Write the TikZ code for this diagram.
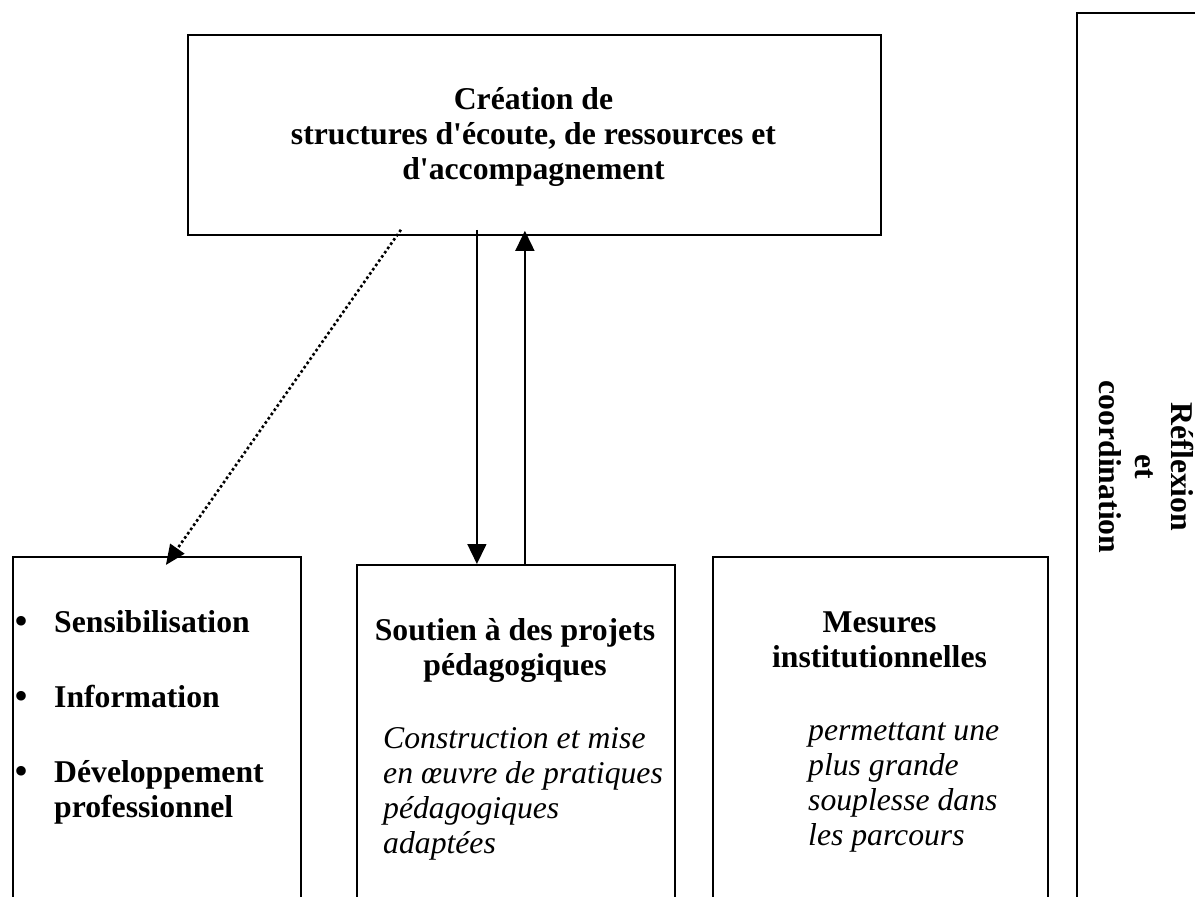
\documentclass[tikz,border=0pt]{standalone}
\usepackage{fontspec}
\setmainfont{Liberation Serif}
\usetikzlibrary{arrows.meta}

\begin{document}
\begin{tikzpicture}[x=1pt,y=-1pt,
  box/.style={draw, line width=1.8pt, inner sep=0pt, anchor=north west},
  bt/.style={font=\fontsize{31.7}{35}\selectfont\bfseries, inner sep=0pt},
  it/.style={font=\fontsize{31.7}{35}\selectfont\itshape, inner sep=0pt, anchor=base west},
  bul/.style={font=\fontsize{40}{35}\selectfont, inner sep=0pt, anchor=base},
  arr/.style={line width=1.5pt, -{Triangle[length=20pt,width=19pt]}},
  dotarr/.style={line width=2.6pt, dash pattern=on 2.6pt off 2.6pt,
                 -{Triangle[length=20pt,width=17pt]}}
]
\useasboundingbox (0,0) rectangle (1195,897);

% frames (the lower ones run off the bottom edge)
\node[box, minimum width=693pt, minimum height=200pt] (creation) at (187,34) {};
\node[box, minimum width=288pt, minimum height=400pt] (sensib) at (12,556) {};
\node[box, minimum width=318pt, minimum height=400pt] (soutien) at (356,564) {};
\node[box, minimum width=335pt, minimum height=400pt] (mesures) at (712,556) {};
\node[box, minimum width=200pt, minimum height=950pt] (reflex) at (1076,12) {};

% top box title
\node[bt, anchor=base] (c1) at (533.5,109) {Création de};
\node[bt, anchor=base] (c2) at (533.5,144) {structures d\textquotesingle écoute, de ressources et};
\node[bt, anchor=base] (c3) at (533.5,179) {d\textquotesingle accompagnement};

% bullet list
\node[bul] (b1) at (22,634) {•};
\node[bul] (b2) at (22,709) {•};
\node[bul] (b3) at (22,784) {•};
\node[bt, anchor=base west] (s1) at (54,632) {Sensibilisation};
\node[bt, anchor=base west] (s2) at (54,707) {Information};
\node[bt, anchor=base west] (s3) at (54,782) {Développement};
\node[bt, anchor=base west] (s4) at (54,817) {professionnel};

% middle box
\node[bt, anchor=base] (p1) at (515,640) {Soutien à des projets};
\node[bt, anchor=base] (p2) at (515,675) {pédagogiques};
\node[it] (p3) at (383,748) {Construction et mise};
\node[it] (p4) at (383,783) {en œuvre de pratiques};
\node[it] (p5) at (383,818) {pédagogiques};
\node[it] (p6) at (383,853) {adaptées};

% institutional measures
\node[bt, anchor=base] (m1) at (879.5,632) {Mesures};
\node[bt, anchor=base] (m2) at (879.5,667) {institutionnelles};
\node[it] (m3) at (808,740) {permettant une};
\node[it] (m4) at (808,775) {plus grande};
\node[it] (m5) at (808,810) {souplesse dans};
\node[it] (m6) at (808,845) {les parcours};

% vertical side label
\node[bt, rotate=-90, align=center, font=\fontsize{31.7}{36}\selectfont\bfseries]
  (r1) at (1146,467) {Réflexion\\et\\coordination};

% connectors
\draw[dotarr] ([xshift=-133.5pt,yshift=6pt]creation.south)
  -- ([xshift=9pt,yshift=-9pt]sensib.north);
\draw[arr] ([xshift=-39pt,yshift=6pt]creation.south -| soutien.north)
  -- ([xshift=-39pt]soutien.north);
\draw[arr] ([xshift=9pt]soutien.north)
  -- ([xshift=9pt,yshift=5pt]creation.south -| soutien.north);
\end{tikzpicture}
\end{document}
